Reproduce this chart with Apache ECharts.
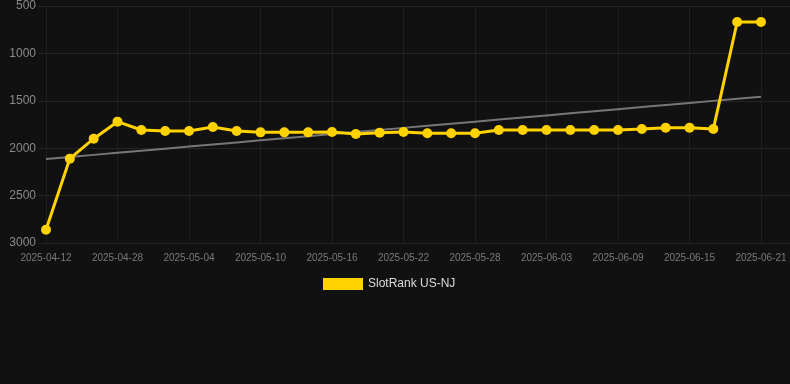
<!DOCTYPE html>
<html>
<head>
<meta charset="utf-8">
<script src="https://cdn.jsdelivr.net/npm/echarts@6/dist/echarts.min.js"></script>
<style>
html,body{margin:0;padding:0;background:#111111;}
#chart{width:790px;height:384px;}
</style>
</head>
<body>
<div id="chart"></div>
<script>
var categories = ['2025-04-12','2025-04-24','2025-04-26','2025-04-28','2025-04-30','2025-05-02','2025-05-04','2025-05-06','2025-05-08','2025-05-10','2025-05-12','2025-05-14','2025-05-16','2025-05-18','2025-05-20','2025-05-22','2025-05-24','2025-05-26','2025-05-28','2025-05-30','2025-06-01','2025-06-03','2025-06-05','2025-06-07','2025-06-09','2025-06-11','2025-06-13','2025-06-15','2025-06-17','2025-06-19','2025-06-21'];
var rankValues = [2860,2110,1900,1720,1808,1819,1819,1776,1819,1833,1833,1833,1830,1850,1836,1829,1843,1843,1843,1808,1808,1808,1808,1808,1808,1798,1784,1784,1798,669,669];
var seriesName = 'SlotRank US-NJ';
var yMin = 500, yMax = 3000, yStep = 500;

// linear regression trend from the data
var n = rankValues.length, sx = 0, sy = 0, sxy = 0, sxx = 0;
for (var i = 0; i < n; i++) { sx += i; sy += rankValues[i]; sxy += i * rankValues[i]; sxx += i * i; }
var slope = (n * sxy - sx * sy) / (n * sxx - sx * sx);
var intercept = (sy - slope * sx) / n;
var trendFull = rankValues.map(function(_, k){ return +(intercept + slope * k).toFixed(1); });

var chart = echarts.init(document.getElementById('chart'));
chart.setOption({
  backgroundColor: '#111111',
  animation: false,
  grid: [
    {left: 38, right: 0, top: 6, bottom: 141},
    {left: 46, right: 29, top: 6, bottom: 141}
  ],
  legend: {
    data: [seriesName],
    top: 273,
    left: 318,
    icon: 'rect',
    itemWidth: 40,
    itemHeight: 12,
    itemGap: 8,
    textStyle: {color: '#dddddd', fontSize: 12, fontFamily: 'Liberation Sans, Arial, sans-serif'}
  },
  xAxis: [
    {gridIndex: 0, type: 'value', min: 0, max: 1, show: false},
    {
      gridIndex: 1, type: 'category', data: categories, boundaryGap: false,
      axisLine: {show: false},
      axisTick: {show: false},
      axisLabel: {interval: 2, color: '#7a7a7a', fontSize: 10, margin: 10, fontFamily: 'Liberation Sans, Arial, sans-serif'},
      splitLine: {show: true, interval: 2, lineStyle: {color: '#1e1e1e', width: 1}}
    }
  ],
  yAxis: [
    {
      gridIndex: 0, type: 'value', inverse: true, min: yMin, max: yMax, interval: yStep,
      axisLine: {show: false}, axisTick: {show: false},
      axisLabel: {color: '#8a8a8a', fontSize: 12, margin: 2, fontFamily: 'Liberation Sans, Arial, sans-serif',
        formatter: function(v){ return String(v); }},
      splitLine: {show: true, lineStyle: {color: '#242424', width: 1}}
    },
    {
      gridIndex: 1, type: 'value', inverse: true, min: yMin, max: yMax, interval: yStep,
      show: false, splitLine: {show: false}
    }
  ],
  series: [
    {
      name: 'trend', type: 'line', xAxisIndex: 1, yAxisIndex: 1,
      data: trendFull, symbol: 'none', silent: true, z: 1,
      lineStyle: {color: '#777777', width: 2}
    },
    {
      name: seriesName, type: 'line', xAxisIndex: 1, yAxisIndex: 1,
      data: rankValues, symbol: 'circle', symbolSize: 10, z: 3,
      itemStyle: {color: '#FFD200'},
      lineStyle: {color: '#FFD200', width: 3}
    }
  ]
});
</script>
</body>
</html>
